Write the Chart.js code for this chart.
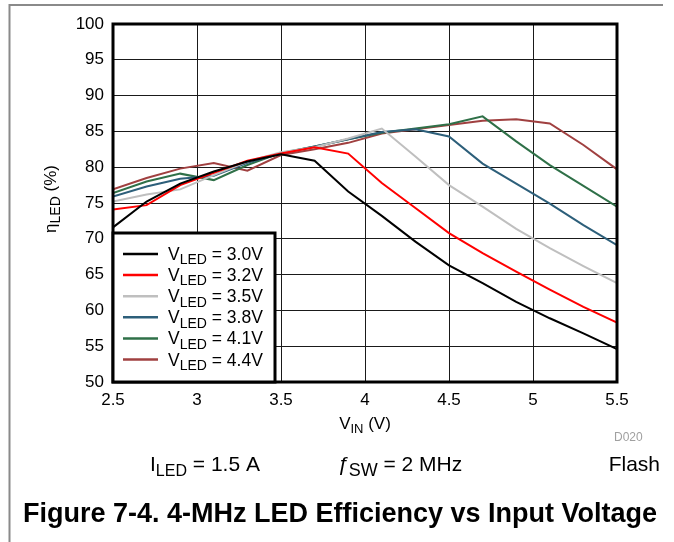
<!DOCTYPE html>
<html>
<head>
<meta charset="utf-8">
<script src="https://cdn.jsdelivr.net/npm/chart.js@4.4.1/dist/chart.umd.min.js"></script>
<style>
  html, body { margin: 0; padding: 0; background: #fff; }
  #wrap { width: 674px; height: 542px; position: relative; }
</style>
</head>
<body>
<div id="wrap"><canvas id="eff"></canvas></div>
<script>
// input voltage sample points (V)
const vin = [2.5, 2.7, 2.9, 3.1, 3.3, 3.5, 3.7, 3.9, 4.1, 4.3, 4.5, 4.7, 4.9, 5.1, 5.3, 5.5];

// efficiency (%) per LED voltage
const eff30 = [71.6, 75.2, 77.7, 79.4, 80.8, 81.8, 80.9, 76.6, 73.2, 69.6, 66.3, 63.8, 61.2, 58.9, 56.8, 54.6];
const eff32 = [74.1, 74.7, 77.5, 79.2, 80.9, 81.9, 82.8, 81.9, 77.8, 74.3, 70.8, 68.0, 65.4, 62.9, 60.5, 58.3];
const eff35 = [75.2, 76.2, 76.9, 78.9, 80.8, 82.1, 82.8, 84.0, 85.4, 81.5, 77.5, 74.5, 71.4, 68.7, 66.2, 63.8];
const eff38 = [75.9, 77.3, 78.4, 78.8, 80.6, 81.9, 82.9, 83.9, 84.9, 85.3, 84.3, 80.5, 77.7, 74.9, 71.9, 69.1];
const eff41 = [76.4, 78.0, 79.1, 78.2, 80.3, 82.0, 82.9, 83.9, 84.8, 85.4, 86.0, 87.1, 83.6, 80.3, 77.4, 74.5];
const eff44 = [76.9, 78.5, 79.8, 80.6, 79.5, 81.7, 82.5, 83.4, 84.7, 85.3, 85.9, 86.5, 86.7, 86.1, 83.1, 79.7];

const ledLabels = ['3.0V', '3.2V', '3.5V', '3.8V', '4.1V', '4.4V'];
const seriesColors = ['#000000', '#ff0000', '#bfbfbf', '#2d5f7a', '#2f7048', '#a04040'];

const xTicks = [2.5, 3, 3.5, 4, 4.5, 5, 5.5];
const yTicks = [50, 55, 60, 65, 70, 75, 80, 85, 90, 95, 100];

const FONT = 'Arial, "Liberation Sans", sans-serif';

// draws text made of [string, isSub] parts
function drawParts(ctx, parts, x, y, size, subSize, align) {
    let total = 0;
    parts.forEach(p => {
        ctx.font = (p[2] || '') + (p[1] ? subSize : size) + 'px ' + FONT;
        total += ctx.measureText(p[0]).width;
    });
    let cx = align === 'center' ? x - total / 2 : (align === 'right' ? x - total : x);
    ctx.textAlign = 'left';
    ctx.textBaseline = 'alphabetic';
    parts.forEach(p => {
        ctx.font = (p[2] || '') + (p[1] ? subSize : size) + 'px ' + FONT;
        ctx.fillText(p[0], cx, p[1] ? y + size * 0.25 : y);
        cx += ctx.measureText(p[0]).width;
    });
}

const decorations = {
    id: 'decorations',
    afterDraw(chart) {
        const ctx = chart.ctx;
        const a = chart.chartArea;
        ctx.save();

        // page frame
        ctx.strokeStyle = '#8a8a8a';
        ctx.lineWidth = 2;
        ctx.beginPath();
        ctx.moveTo(663, 5);
        ctx.lineTo(9.5, 5);
        ctx.lineTo(9.5, 542);
        ctx.stroke();

        // plot frame
        ctx.strokeStyle = '#000';
        ctx.lineWidth = 3;
        ctx.strokeRect(a.left, a.top, a.right - a.left, a.bottom - a.top);

        // legend
        const lx = a.left, ly = 233, lw = 162, lh = a.bottom - ly;
        ctx.fillStyle = '#fff';
        ctx.fillRect(lx, ly, lw, lh);
        ctx.strokeRect(lx, ly, lw, lh);
        chart.data.datasets.forEach((ds, i) => {
            const ry = 254 + i * 21.1;
            ctx.strokeStyle = ds.borderColor;
            ctx.lineWidth = 2.5;
            ctx.beginPath();
            ctx.moveTo(123, ry);
            ctx.lineTo(158, ry);
            ctx.stroke();
            ctx.fillStyle = '#000';
            drawParts(ctx, [['V'], ['LED', true], [' = ' + ledLabels[i]]], 168, ry + 6, 17.5, 14, 'left');
        });

        ctx.fillStyle = '#000';
        // x axis title
        drawParts(ctx, [['V'], ['IN', true], [' (V)']], 365, 429, 17, 13, 'center');

        // y axis title
        ctx.save();
        ctx.translate(56, 199);
        ctx.rotate(-Math.PI / 2);
        drawParts(ctx, [['\u03b7'], ['LED', true], [' (%)']], 0, 0, 17, 14, 'center');
        ctx.restore();

        // footnotes
        ctx.fillStyle = '#a0a0a0';
        ctx.font = '12px ' + FONT;
        ctx.textAlign = 'left';
        ctx.fillText('D020', 614, 441);

        ctx.fillStyle = '#000';
        drawParts(ctx, [['I'], ['LED', true], [' = 1.5 A']], 150, 471, 21, 16, 'left');
        drawParts(ctx, [['\u0192', false, 'italic '], ['SW', true], [' = 2 MHz']], 337, 471, 21, 18, 'left');
        drawParts(ctx, [['Flash']], 660, 471, 21, 16, 'right');

        // caption
        ctx.font = 'bold 27px ' + FONT;
        ctx.textAlign = 'center';
        ctx.fillText('Figure 7-4. 4-MHz LED Efficiency vs Input Voltage', 340, 522);

        ctx.restore();
    }
};

const datasets = [eff30, eff32, eff35, eff38, eff41, eff44].map((vals, i) => ({
    label: 'VLED = ' + ledLabels[i],
    data: vals.map((v, k) => ({ x: vin[k], y: v })),
    borderColor: seriesColors[i],
    backgroundColor: seriesColors[i],
    borderWidth: 2,
    pointRadius: 0,
    tension: 0,
    fill: false
}));

new Chart(document.getElementById('eff').getContext('2d'), {
    type: 'line',
    data: { datasets: datasets },
    options: {
        responsive: true,
        maintainAspectRatio: false,
        animation: false,
        layout: { padding: { top: 24, right: 57, left: 0, bottom: 0 } },
        plugins: { legend: { display: false }, tooltip: { enabled: false } },
        scales: {
            x: {
                type: 'linear',
                min: 2.5,
                max: 5.5,
                afterFit: s => { s.height = 160; },
                afterBuildTicks: s => { s.ticks = xTicks.map(v => ({ value: v })); },
                grid: { color: '#1a1a1a', lineWidth: 1, drawTicks: false },
                border: { display: false },
                ticks: {
                    color: '#000',
                    padding: 8,
                    maxRotation: 0,
                    font: { family: FONT, size: 17 },
                    callback: v => String(v)
                }
            },
            y: {
                min: 50,
                max: 100,
                afterFit: s => { s.width = 113; },
                afterBuildTicks: s => { s.ticks = yTicks.map(v => ({ value: v })); },
                grid: { color: '#1a1a1a', lineWidth: 1, drawTicks: false },
                border: { display: false },
                ticks: {
                    color: '#000',
                    padding: 9,
                    font: { family: FONT, size: 17 },
                    callback: v => String(v)
                }
            }
        }
    },
    plugins: [decorations]
});
</script>
</body>
</html>
